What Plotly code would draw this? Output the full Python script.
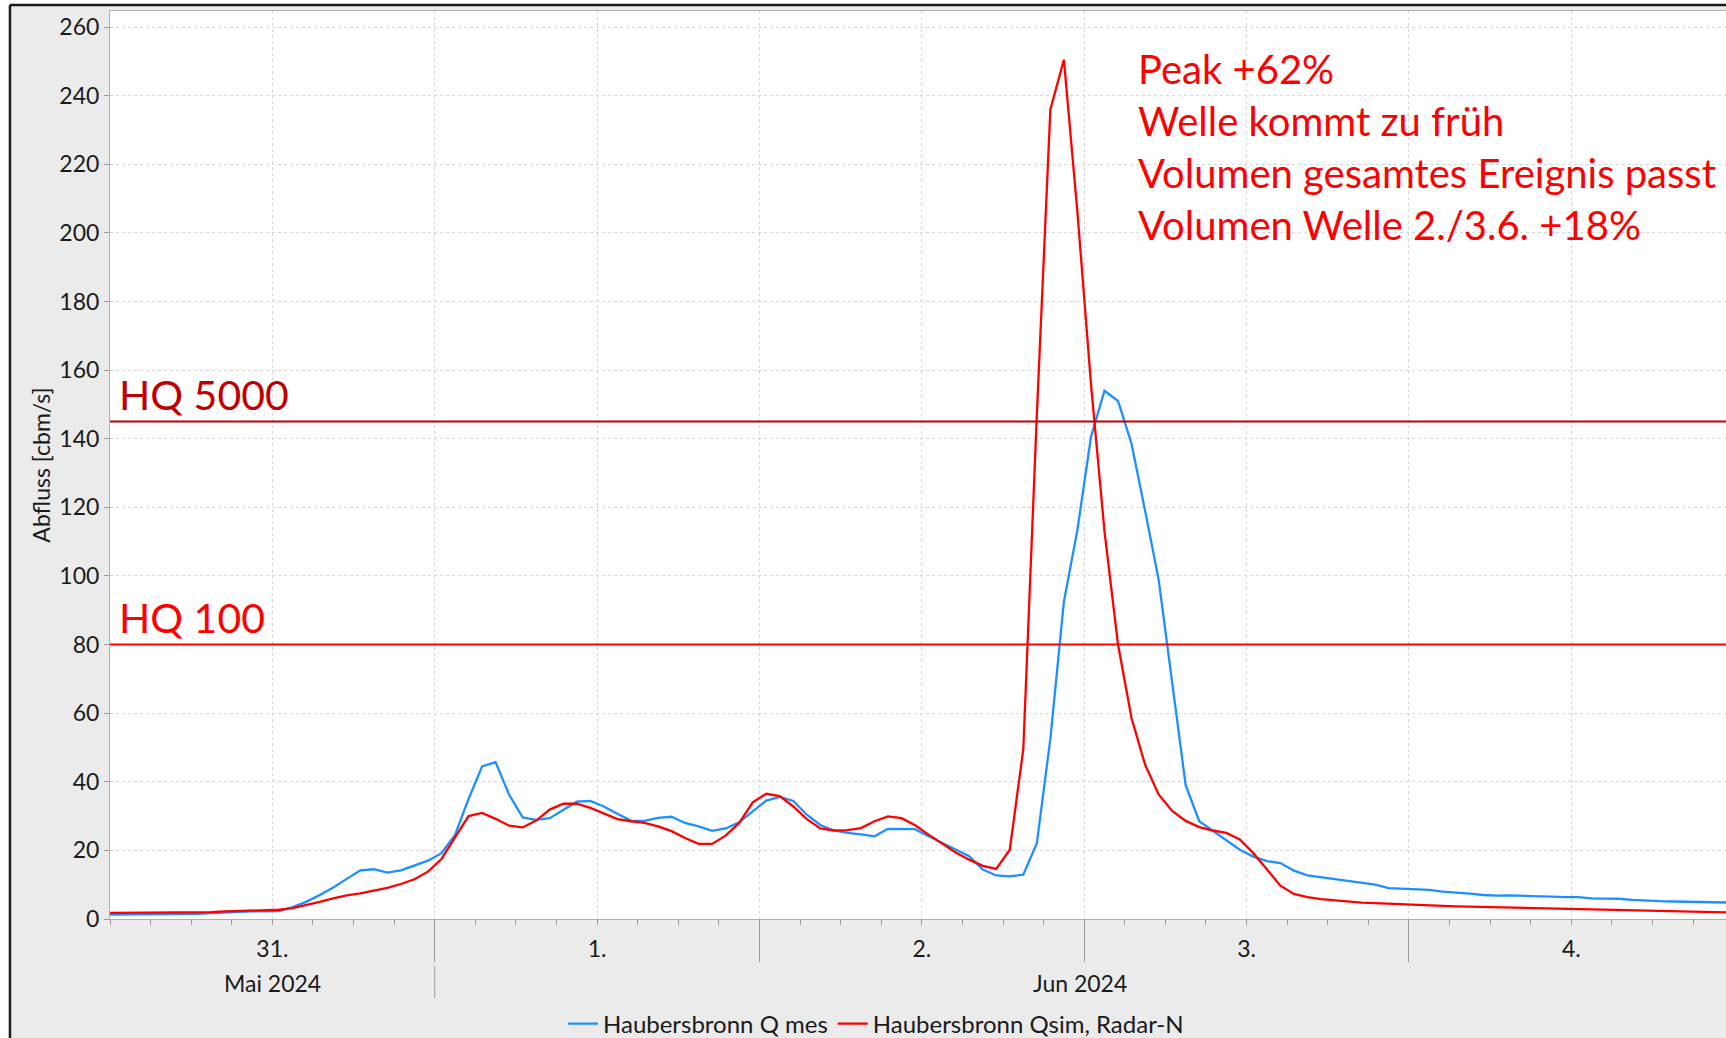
import pandas as pd
import plotly.graph_objects as go

# ---------------- data ----------------
# hourly values (timestamps at :30), from 2024-05-30 23:30 to 2024-06-04 23:30
times = pd.date_range("2024-05-30 23:30", periods=121, freq="h")

q_mes = [
    1.3, 1.3, 1.3, 1.3, 1.3, 1.3, 1.4, 1.5, 1.7, 1.9, 2.1, 2.2,
    2.2, 2.3, 3.5, 5.0, 7.0, 9.2, 11.7, 14.2, 14.5, 13.5, 14.2, 15.7,
    17.0, 19.2, 24.5, 35.0, 44.5, 45.7, 36.2, 29.6, 28.9, 29.4, 31.9, 34.2,
    34.4, 32.8, 30.7, 28.7, 28.6, 29.5, 29.8, 28.0, 27.0, 25.7, 26.4, 28.2,
    31.4, 34.5, 35.6, 34.4, 30.4, 27.4, 25.8, 25.1, 24.7, 24.1, 26.3, 26.3,
    26.2, 24.1, 22.1, 20.2, 18.3, 14.4, 12.7, 12.4, 12.9, 22.1, 52.5, 92.5,
    113.5, 140.5, 154.0, 151.0, 138.5, 119.0, 99.0, 69.0, 39.0, 28.5, 25.8, 23.1,
    20.2, 18.2, 16.9, 16.3, 14.1, 12.7, 12.2, 11.7, 11.0, 10.7, 10.0, 9.0,
    8.8, 8.8, 8.5, 8.0, 7.8, 7.4, 7.0, 6.8, 6.9, 6.7, 6.6, 6.5,
    6.4, 6.4, 6.0, 6.0, 5.9, 5.6, 5.3, 5.2, 5.1, 5.0, 4.9, 4.8,
    4.8,
]

q_sim = [
    1.8, 1.8, 1.8, 1.8, 1.8, 1.8, 1.9, 1.9, 2.0, 2.2, 2.3, 2.5,
    2.6, 2.7, 3.2, 4.0, 5.0, 6.0, 6.9, 7.5, 8.2, 9.1, 10.2, 11.6,
    13.8, 17.5, 23.8, 30.0, 30.9, 29.2, 27.2, 26.7, 28.7, 31.9, 33.6, 33.6,
    32.4, 30.7, 29.1, 28.5, 28.0, 27.0, 25.6, 23.6, 21.9, 21.9, 24.3, 28.0,
    34.0, 36.5, 35.8, 32.8, 29.1, 26.4, 25.8, 25.9, 26.5, 28.5, 29.9, 29.4,
    27.3, 24.6, 21.9, 19.4, 17.3, 15.5, 14.6, 20.2, 49.5, 147.0, 236.0, 250.5,
    206.0, 156.0, 113.0, 80.0, 58.5, 45.0, 36.3, 31.5, 28.6, 26.8, 25.8, 25.1,
    23.2, 19.2, 14.5, 9.7, 7.3, 6.4, 5.8, 5.4, 5.1, 4.8, 4.65, 4.45,
    4.3, 4.1, 4.0, 3.8, 3.7, 3.6, 3.5, 3.4, 3.3, 3.2, 3.1, 3.0,
    2.9, 2.8, 2.7, 2.6, 2.5, 2.4, 2.3, 2.25, 2.2, 2.1, 2.0, 2.0,
    1.9,
]

series_names = ["Haubersbronn Q mes", "Haubersbronn Qsim, Radar-N"]
series_colors = ["#1e8fff", "#ff0000"]

hq_values = [145, 80]
hq_labels = ["HQ 5000", "HQ 100"]
hq_colors = ["#c00000", "#ff0000"]

notes = [
    "Peak +62%",
    "Welle kommt zu früh",
    "Volumen gesamtes Ereignis passt",
    "Volumen Welle 2./3.6. +18%",
]

x_range = ["2024-05-31 00:00", "2024-06-04 23:26"]
half_day_ticks = pd.date_range("2024-05-31 00:00", periods=10, freq="12h")
day_ticktext = ["", "31.", "", "1.", "", "2.", "", "3.", "", "4."]
midnight_ticks = pd.date_range("2024-06-01", periods=4, freq="D")
month_labels = ["Mai 2024", "Jun 2024"]
month_label_pos = ["2024-05-31 12:00", "2024-06-02 23:43"]
month_boundary = "2024-06-01 00:00"
y_ticks = list(range(0, 261, 20))

FONT = "Lato, 'Open Sans', sans-serif"
TICKC = "#9a9a9a"
GRIDC = "#d6d6d6"

# ---------------- figure ----------------
fig = go.Figure()
for name, vals, col in zip(series_names, [q_mes, q_sim], series_colors):
    fig.add_trace(go.Scatter(x=times, y=vals, mode="lines", name=name,
                             line=dict(color=col, width=2.3)))
# helper (empty) trace so the overlay axis carrying the long midnight ticks is drawn
fig.add_trace(go.Scatter(x=[], y=[], xaxis="x2", showlegend=False, hoverinfo="skip"))

# HQ threshold lines + labels
for v, lab, col in zip(hq_values, hq_labels, hq_colors):
    fig.add_shape(type="line", xref="paper", x0=0, x1=1, yref="y", y0=v, y1=v,
                  line=dict(color=col, width=2))
    fig.add_annotation(xref="paper", x=0.0045, xanchor="left", yref="y", y=v,
                       yanchor="bottom", yshift=1, text=lab, showarrow=False,
                       font=dict(family=FONT, size=41, color=col))

# comment block
fig.add_annotation(xref="paper", x=0.635, xanchor="left", yref="y", y=225.1,
                   yanchor="middle", align="left", text="<br>".join(notes),
                   showarrow=False, font=dict(family=FONT, size=40, color="#ff0000"))

# month labels and separator
for lab, pos in zip(month_labels, month_label_pos):
    fig.add_annotation(xref="x", x=pos, yref="paper", y=-0.0705, yanchor="middle",
                       text=lab, showarrow=False,
                       font=dict(family=FONT, size=23, color="#1a1a1a"))
fig.add_shape(type="line", xref="x", x0=month_boundary, x1=month_boundary,
              yref="paper", y0=-0.052, y1=-0.087, line=dict(color=TICKC, width=1))

# outer frame (white outside, black border at left/top)
fig.add_shape(type="rect", xref="paper", yref="paper", x0=-0.09, x1=-0.0619,
              y0=-0.2, y1=1.05, fillcolor="white", line_width=0, layer="below")
fig.add_shape(type="rect", xref="paper", yref="paper", x0=-0.09, x1=1.05,
              y0=1.0066, y1=1.05, fillcolor="white", line_width=0, layer="below")
fig.add_shape(type="line", xref="paper", yref="paper", x0=-0.0619, x1=-0.0619,
              y0=-0.2, y1=1.0066, line=dict(color="#1a1a1a", width=2.5))
fig.add_shape(type="line", xref="paper", yref="paper", x0=-0.0619, x1=1.05,
              y0=1.0066, y1=1.0066, line=dict(color="#1a1a1a", width=2.5))

fig.update_layout(
    width=1726, height=1038, autosize=False,
    margin=dict(l=110, r=0, t=11, b=119, pad=0, autoexpand=False),
    paper_bgcolor="#ebebeb", plot_bgcolor="white",
    font=dict(family=FONT, size=23, color="#1a1a1a"),
    showlegend=True,
    legend=dict(orientation="h", x=0.474, xanchor="center",
                yref="container", y=0.0135, yanchor="middle",
                bgcolor="rgba(0,0,0,0)",
                font=dict(family=FONT, size=24, color="#1a1a1a")),
    xaxis=dict(
        type="date", range=x_range, tickmode="array",
        tickvals=half_day_ticks, ticktext=day_ticktext,
        ticks="outside", ticklen=5, tickcolor=TICKC, ticklabelstandoff=4,
        showgrid=True, gridcolor=GRIDC, griddash="dot", gridwidth=1,
        showline=True, linecolor="#b0b0b0", linewidth=1, mirror=True,
        zeroline=False, tickfont=dict(family=FONT, size=23, color="#1a1a1a"),
        minor=dict(tickmode="linear", tick0="2024-05-31", dtick=3 * 3600 * 1000,
                   ticks="outside", ticklen=5, tickcolor=TICKC, showgrid=False),
    ),
    xaxis2=dict(
        type="date", range=x_range, overlaying="x", anchor="y", side="bottom",
        tickmode="array", tickvals=midnight_ticks, ticks="outside", ticklen=42,
        tickcolor=TICKC, showticklabels=False, showgrid=False, showline=False,
        zeroline=False,
    ),
    yaxis=dict(
        range=[0, 264.7], tickmode="array", tickvals=y_ticks,
        ticks="outside", ticklen=5, tickcolor=TICKC,
        showgrid=True, gridcolor=GRIDC, griddash="dot", gridwidth=1,
        showline=True, linecolor="#b0b0b0", linewidth=1, mirror=True,
        zeroline=False, tickfont=dict(family=FONT, size=23, color="#1a1a1a"),
        title=dict(text="Abfluss [cbm/s]", standoff=2,
                   font=dict(family=FONT, size=23, color="#1a1a1a")),
    ),
)

fig.write_html("out.html", config={"displayModeBar": False},
               post_script="document.body.style.margin='0';document.body.style.overflow='hidden';")
